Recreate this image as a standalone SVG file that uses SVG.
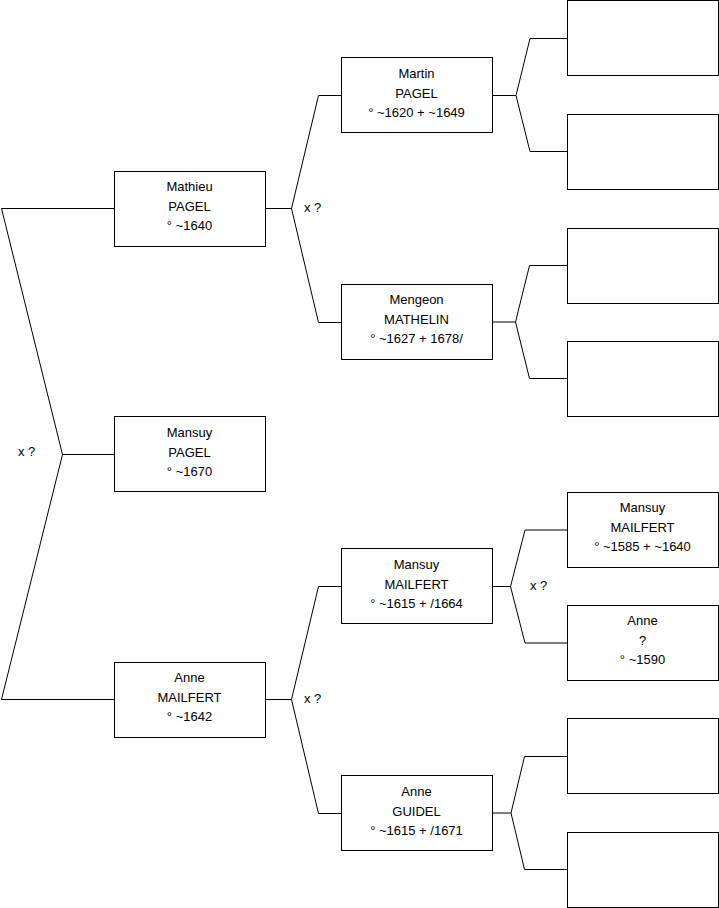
<svg xmlns="http://www.w3.org/2000/svg" width="719" height="908" viewBox="0 0 719 908">
<style>
.box{fill:#fff;stroke:#000;stroke-width:1}
.con{fill:none;stroke:#000;stroke-width:1}
text{font-family:"Liberation Sans",Arial,Helvetica,sans-serif;font-size:13px;fill:#000}
.c{text-anchor:middle}
</style>
<rect width="719" height="908" fill="#fff"/>
<g id="connectors">
<path class="con" d="M114.5,208.5 H1.5 L62.5,454.5 L1.5,699.5 H114.5 M62.5,454.5 H114.5"/>
<path class="con" d="M265.5,208.5 H291.5 L318.5,95.5 H341.5 M291.5,208.5 L318.5,322.5 H341.5"/>
<path class="con" d="M265.5,699.5 H291.5 L318.5,586.5 H341.5 M291.5,699.5 L318.5,813.5 H341.5"/>
<path class="con" d="M492.5,95.5 H516 L530,38.5 H567.5 M516,95.5 L530,151.5 H567.5"/>
<path class="con" d="M492.5,322 H515.5 L529.5,265.5 H567.5 M515.5,322 L529.5,378.5 H567.5"/>
<path class="con" d="M492.5,586.5 H510.5 L525,530 H567.5 M510.5,586.5 L525,643 H567.5"/>
<path class="con" d="M492.5,813 H511 L524.5,756.5 H567.5 M511,813 L524.5,869.5 H567.5"/>
<text x="18" y="456">x ?</text>
<text x="304" y="212">x ?</text>
<text x="304" y="703">x ?</text>
<text x="530" y="590">x ?</text>
</g>
<g id="mathieu">
<rect class="box" x="114.5" y="171.5" width="151" height="75"/>
<text class="c" x="189.5" y="191">Mathieu</text>
<text class="c" x="189.5" y="211">PAGEL</text>
<text class="c" x="189.5" y="230">° ~1640</text>
</g>
<g id="mansuy-pagel">
<rect class="box" x="114.5" y="416.5" width="151" height="75"/>
<text class="c" x="189.5" y="437">Mansuy</text>
<text class="c" x="189.5" y="457">PAGEL</text>
<text class="c" x="189.5" y="476">° ~1670</text>
</g>
<g id="anne-mailfert">
<rect class="box" x="114.5" y="662.5" width="151" height="75"/>
<text class="c" x="189.5" y="682">Anne</text>
<text class="c" x="189.5" y="702">MAILFERT</text>
<text class="c" x="189.5" y="721">° ~1642</text>
</g>
<g id="martin">
<rect class="box" x="341.5" y="57.5" width="151" height="75"/>
<text class="c" x="416.5" y="78">Martin</text>
<text class="c" x="416.5" y="98">PAGEL</text>
<text class="c" x="416.5" y="117">° ~1620 + ~1649</text>
</g>
<g id="mengeon">
<rect class="box" x="341.5" y="284.5" width="151" height="75"/>
<text class="c" x="416.5" y="304">Mengeon</text>
<text class="c" x="416.5" y="324">MATHELIN</text>
<text class="c" x="416.5" y="343">° ~1627 + 1678/</text>
</g>
<g id="mansuy-mailfert">
<rect class="box" x="341.5" y="548.5" width="151" height="75"/>
<text class="c" x="416.5" y="569">Mansuy</text>
<text class="c" x="416.5" y="589">MAILFERT</text>
<text class="c" x="416.5" y="608">° ~1615 + /1664</text>
</g>
<g id="anne-guidel">
<rect class="box" x="341.5" y="775.5" width="151" height="75"/>
<text class="c" x="416.5" y="796">Anne</text>
<text class="c" x="416.5" y="816">GUIDEL</text>
<text class="c" x="416.5" y="835">° ~1615 + /1671</text>
</g>
<g id="empty-1"><rect class="box" x="567.5" y="0.5" width="151" height="75"/></g>
<g id="empty-2"><rect class="box" x="567.5" y="114.5" width="151" height="75"/></g>
<g id="empty-3"><rect class="box" x="567.5" y="228.5" width="151" height="75"/></g>
<g id="empty-4"><rect class="box" x="567.5" y="341.5" width="151" height="75"/></g>
<g id="mansuy-mailfert-1585">
<rect class="box" x="567.5" y="492.5" width="151" height="75"/>
<text class="c" x="642.5" y="512">Mansuy</text>
<text class="c" x="642.5" y="532">MAILFERT</text>
<text class="c" x="642.5" y="551">° ~1585 + ~1640</text>
</g>
<g id="anne-unknown">
<rect class="box" x="567.5" y="605.5" width="151" height="75"/>
<text class="c" x="642.5" y="625">Anne</text>
<text class="c" x="642.5" y="645">?</text>
<text class="c" x="642.5" y="664">° ~1590</text>
</g>
<g id="empty-5"><rect class="box" x="567.5" y="718.5" width="151" height="75"/></g>
<g id="empty-6"><rect class="box" x="567.5" y="832.5" width="151" height="75"/></g>
</svg>
